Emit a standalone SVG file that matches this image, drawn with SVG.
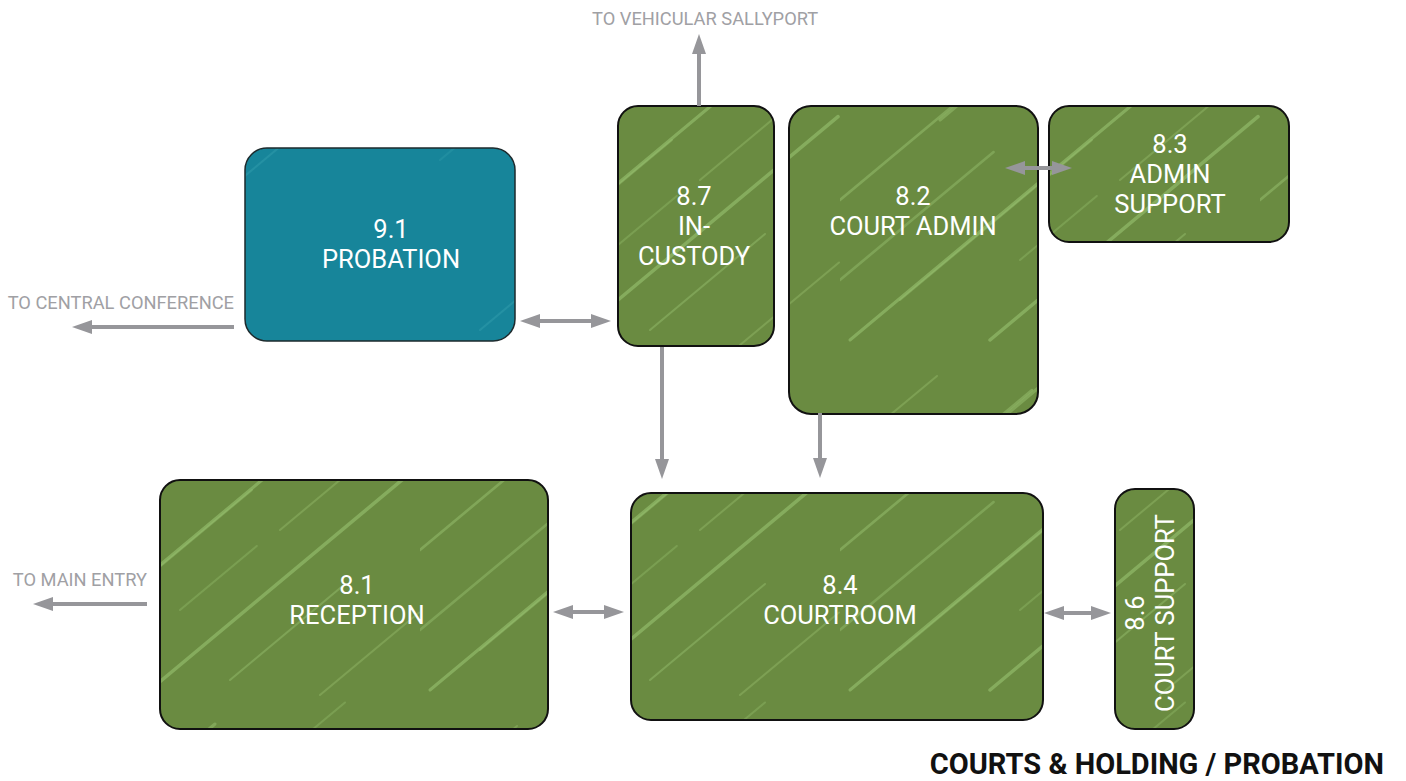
<svg xmlns="http://www.w3.org/2000/svg" width="1406" height="781" viewBox="0 0 1406 781">
<style>
.lbl{font-family:Roboto,"Liberation Sans",Arial,sans-serif;font-size:25.5px;fill:#ffffff;text-anchor:middle}
.ext{font-family:Roboto,"Liberation Sans",Arial,sans-serif;font-size:18.3px;fill:#a0a0a4}
.title{font-family:Roboto,"Liberation Sans",Arial,sans-serif;font-size:29px;font-weight:bold;fill:#111111;text-anchor:end}
.green{fill:url(#gtex);stroke:#111111;stroke-width:2}
.teal{fill:url(#ttex);stroke:#1d2a2d;stroke-width:1.5}
.conn{stroke:#96969a;stroke-width:4;fill:none}
</style>
<defs>
<pattern id="gtex" patternUnits="userSpaceOnUse" x="0" y="0" width="420" height="350">
<rect width="420" height="350" fill="#6a8b41"/>
<g stroke="#98c16f" fill="none" stroke-linecap="round">
<path d="M10 340 L355.6 52" stroke-width="3" opacity="0.6"/>
<path d="M60 300 L252 140" stroke-width="2" opacity="0.45"/>
<path d="M150 340 L418 116.7" stroke-width="3.5" opacity="0.6"/>
<path d="M0 200 L192 40" stroke-width="2.5" opacity="0.5"/>
<path d="M230 330 L345 234" stroke-width="2" opacity="0.45"/>
<path d="M100 120 L215 24" stroke-width="3" opacity="0.5"/>
<path d="M280 180 L410.6 71" stroke-width="2" opacity="0.4"/>
<path d="M20 90 L97 26" stroke-width="2" opacity="0.4"/>
<path d="M300 40 L345 2.5" stroke-width="2" opacity="0.35"/>
<path d="M0 280 L153.6 152" stroke-width="2.5" opacity="0.45"/>
<path d="M320 345 L419 262.5" stroke-width="2" opacity="0.4"/>
<path d="M180 260 L256.8 196" stroke-width="2" opacity="0.35"/>
</g>
</pattern>
<pattern id="ttex" patternUnits="userSpaceOnUse" x="0" y="0" width="420" height="350">
<rect width="420" height="350" fill="#17859a"/>
<g stroke="#3ba7b5" fill="none" stroke-linecap="round">
<path d="M60 330 L330 105" stroke-width="2" opacity="0.35"/>
<path d="M150 200 L300 75" stroke-width="2" opacity="0.25"/>
<path d="M20 160 L180 26.7" stroke-width="2" opacity="0.25"/>
</g>
</pattern>
<marker id="ah" markerUnits="userSpaceOnUse" markerWidth="20" markerHeight="14" refX="10" refY="7" orient="auto-start-reverse">
<path d="M0 0 L20 7 L0 14 Z" fill="#96969a"/>
</marker>
</defs>

<g id="node-9-1">
<rect class="teal" x="245" y="148" width="270" height="193" rx="22"/>
<text class="lbl" x="391" y="238">9.1</text>
<text class="lbl" x="391" y="268">PROBATION</text>
</g>
<g id="node-8-7">
<rect class="green" x="618" y="106" width="156" height="240" rx="20"/>
<text class="lbl" x="694" y="205">8.7</text>
<text class="lbl" x="694" y="235">IN-</text>
<text class="lbl" x="694" y="265">CUSTODY</text>
</g>
<g id="node-8-2">
<rect class="green" x="789" y="106" width="249" height="308" rx="22"/>
<text class="lbl" x="913" y="205">8.2</text>
<text class="lbl" x="913" y="235">COURT ADMIN</text>
</g>
<g id="node-8-3">
<rect class="green" x="1049" y="106" width="240" height="136" rx="20"/>
<text class="lbl" x="1170" y="153">8.3</text>
<text class="lbl" x="1170" y="183">ADMIN</text>
<text class="lbl" x="1170" y="213">SUPPORT</text>
</g>
<g id="node-8-1">
<rect class="green" x="160" y="480" width="388" height="249" rx="20"/>
<text class="lbl" x="357" y="594">8.1</text>
<text class="lbl" x="357" y="624">RECEPTION</text>
</g>
<g id="node-8-4">
<rect class="green" x="631" y="493" width="412" height="227" rx="20"/>
<text class="lbl" x="840" y="594">8.4</text>
<text class="lbl" x="840" y="624">COURTROOM</text>
</g>
<g id="node-8-6">
<rect class="green" x="1115" y="489" width="79" height="240" rx="20"/>
<text class="lbl" transform="translate(1143.5 613) rotate(-90)" x="0" y="0">8.6</text>
<text class="lbl" transform="translate(1173.5 613) rotate(-90)" x="0" y="0">COURT SUPPORT</text>
</g>

<g id="connectors">
<line class="conn" x1="699" y1="106" x2="699" y2="44" marker-end="url(#ah)"/>
<line class="conn" x1="234" y1="327" x2="82" y2="327" marker-end="url(#ah)"/>
<line class="conn" x1="147" y1="604" x2="43" y2="604" marker-end="url(#ah)"/>
<line class="conn" x1="530" y1="321" x2="601" y2="321" marker-start="url(#ah)" marker-end="url(#ah)"/>
<line class="conn" x1="662" y1="347" x2="662" y2="469" marker-end="url(#ah)"/>
<line class="conn" x1="820" y1="413" x2="820" y2="468" marker-end="url(#ah)"/>
<line class="conn" x1="1015" y1="168" x2="1062" y2="168" marker-start="url(#ah)" marker-end="url(#ah)"/>
<line class="conn" x1="563" y1="612" x2="614" y2="612" marker-start="url(#ah)" marker-end="url(#ah)"/>
<line class="conn" x1="1054" y1="613" x2="1101" y2="613" marker-start="url(#ah)" marker-end="url(#ah)"/>
</g>

<g id="labels">
<text class="ext" x="592" y="25">TO VEHICULAR SALLYPORT</text>
<text class="ext" x="234" y="309" text-anchor="end">TO CENTRAL CONFERENCE</text>
<text class="ext" x="147" y="586" text-anchor="end">TO MAIN ENTRY</text>
<text class="title" x="1384" y="774">COURTS &amp; HOLDING / PROBATION</text>
</g>
</svg>
